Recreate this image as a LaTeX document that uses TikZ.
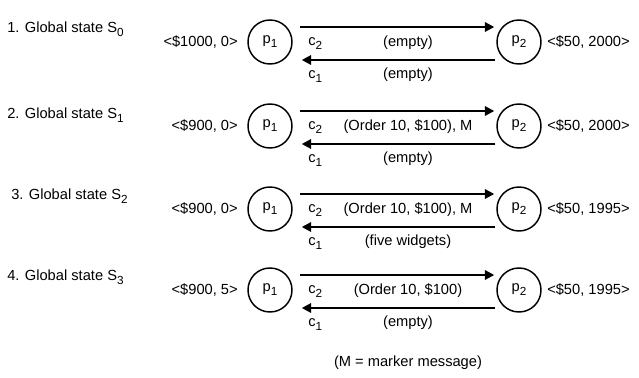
\documentclass[tikz,border=0pt]{standalone}
\usepackage{fontspec}
\setmainfont{Liberation Sans}
\usetikzlibrary{positioning, arrows.meta}

\newcommand{\sub}[1]{\raisebox{-3pt}{\fontsize{8.8}{9}\selectfont #1}}

\begin{document}
\begin{tikzpicture}[x=0.75pt, y=-0.75pt, font=\fontsize{11}{13}\selectfont,
	proc/.style={circle, draw, line width=1.1pt, minimum size=33pt, inner sep=0pt},
	chan/.style={line width=1.5pt, -{Triangle[length=7pt, width=7pt]}},
	txt/.style={inner sep=0pt}]
			
			\useasboundingbox (0,0) rectangle (639,378);
			
			%Nodes - state 0
			\node (title0) at (7,29) [txt, anchor=west] {1. Global state S\sub{0}};
			\node (p1s0) at (270,42) [proc] {p\sub{1}};
			\node (p2s0) at (519,42) [proc] {p\sub{2}};
			\node (left0) at (238,42) [txt, anchor=east] {<\$1000, 0>};
			\node (right0) at (547,42) [txt, anchor=west] {<\$50, 2000>};
			\node (c2s0) at (308,44) [txt, anchor=west] {c\sub{2}};
			\node (c1s0) at (308,77) [txt, anchor=west] {c\sub{1}};
			\node (m2s0) at (408,43) [txt] {(empty)};
			\node (m1s0) at (408,75) [txt] {(empty)};
			
			%Nodes - state 1
			\node (title1) at (7,115) [txt, anchor=west] {2. Global state S\sub{1}};
			\node (p1s1) at (270,126) [proc] {p\sub{1}};
			\node (p2s1) at (519,126) [proc] {p\sub{2}};
			\node (left1) at (238,126) [txt, anchor=east] {<\$900, 0>};
			\node (right1) at (547,126) [txt, anchor=west] {<\$50, 2000>};
			\node (c2s1) at (308,128) [txt, anchor=west] {c\sub{2}};
			\node (c1s1) at (308,161) [txt, anchor=west] {c\sub{1}};
			\node (m2s1) at (408,127) [txt] {(Order 10, \$100), M};
			\node (m1s1) at (408,159) [txt] {(empty)};
			
			%Nodes - state 2
			\node (title2) at (11,196) [txt, anchor=west] {3. Global state S\sub{2}};
			\node (p1s2) at (270,209) [proc] {p\sub{1}};
			\node (p2s2) at (519,209) [proc] {p\sub{2}};
			\node (left2) at (238,209) [txt, anchor=east] {<\$900, 0>};
			\node (right2) at (547,209) [txt, anchor=west] {<\$50, 1995>};
			\node (c2s2) at (308,211) [txt, anchor=west] {c\sub{2}};
			\node (c1s2) at (308,244) [txt, anchor=west] {c\sub{1}};
			\node (m2s2) at (408,210) [txt] {(Order 10, \$100), M};
			\node (m1s2) at (408,242) [txt] {(five widgets)};
			
			%Nodes - state 3
			\node (title3) at (7,277) [txt, anchor=west] {4. Global state S\sub{3}};
			\node (p1s3) at (270,290) [proc] {p\sub{1}};
			\node (p2s3) at (519,290) [proc] {p\sub{2}};
			\node (left3) at (238,290) [txt, anchor=east] {<\$900, 5>};
			\node (right3) at (547,290) [txt, anchor=west] {<\$50, 1995>};
			\node (c2s3) at (308,292) [txt, anchor=west] {c\sub{2}};
			\node (c1s3) at (308,325) [txt, anchor=west] {c\sub{1}};
			\node (m2s3) at (408,291) [txt] {(Order 10, \$100)};
			\node (m1s3) at (408,323) [txt] {(empty)};
			
			\node (note) at (408,363) [txt] {(M = marker message)};
			
			%Links
			\draw [chan] ([shift={(7,-15)}]p1s0.east) -- ([shift={(-2,-15)}]p2s0.west);
			\draw [chan] ([shift={(-1,18)}]p2s0.west) -- ([shift={(9,18)}]p1s0.east);
			\draw [chan] ([shift={(7,-15)}]p1s1.east) -- ([shift={(-2,-15)}]p2s1.west);
			\draw [chan] ([shift={(-1,18)}]p2s1.west) -- ([shift={(9,18)}]p1s1.east);
			\draw [chan] ([shift={(7,-15)}]p1s2.east) -- ([shift={(-2,-15)}]p2s2.west);
			\draw [chan] ([shift={(-1,18)}]p2s2.west) -- ([shift={(9,18)}]p1s2.east);
			\draw [chan] ([shift={(7,-15)}]p1s3.east) -- ([shift={(-2,-15)}]p2s3.west);
			\draw [chan] ([shift={(-1,18)}]p2s3.west) -- ([shift={(9,18)}]p1s3.east);
			
\end{tikzpicture}
\end{document}
